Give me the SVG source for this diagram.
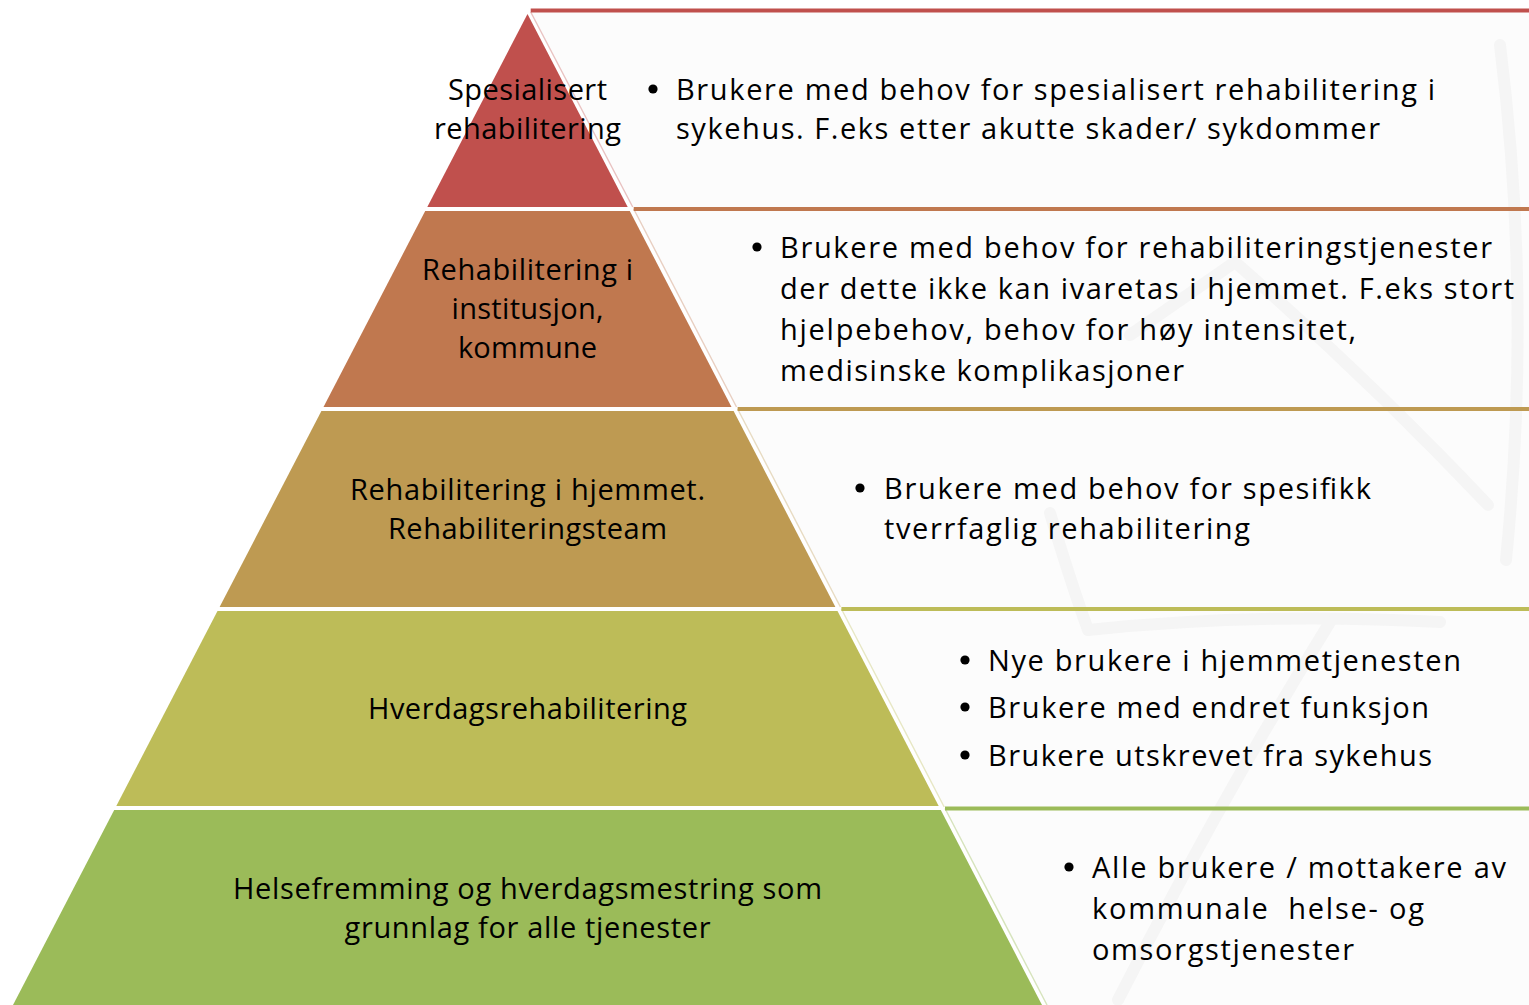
<svg xmlns="http://www.w3.org/2000/svg" width="1529" height="1005" viewBox="0 0 1529 1005">
<style>
  .lbl { font-family: "Open Sans", "Liberation Sans", sans-serif; font-size: 29px; fill: #000000; }
  .mid { text-anchor: middle; }
  .band { fill: #fcfcfc; }
  .wm { fill: none; stroke: #f5f5f5; stroke-width: 12; stroke-linecap: round; stroke-linejoin: round; }
  .bul { fill: #000000; }
</style>
<rect x="0" y="0" width="1529" height="1005" fill="#ffffff"/>

<!-- right bands -->
<g id="bands">
  <polygon class="band" points="530.7,10.5 1529,10.5 1529,207 632.7,207"/>
  <polygon class="band" points="633.7,209 1529,209 1529,407 736.5,407"/>
  <polygon class="band" points="737.6,409 1529,409 1529,607 840.4,607"/>
  <polygon class="band" points="841.4,609 1529,609 1529,807 944.2,807"/>
  <polygon class="band" points="945,808.5 1529,808.5 1529,1005 1047,1005"/>
</g>

<!-- faint watermark -->
<g id="watermark">
  <path class="wm" d="M1500,45 Q1532,300 1506,560"/>
  <path class="wm" d="M1130,335 L1235,262 Q1370,380 1488,505"/>
  <path class="wm" d="M1050,513 Q1070,580 1088,630 Q1260,612 1440,622"/>
  <path class="wm" d="M1330,622 Q1220,800 1118,1000"/>
</g>

<!-- band edges and top lines -->
<g id="connectors">
  <line x1="530.7" y1="10.5" x2="1529" y2="10.5" stroke="#c0504d" stroke-width="4"/>
  <line x1="530.7" y1="12" x2="632.7" y2="207" stroke="#c0504d" stroke-opacity="0.35" stroke-width="1.4"/>
  <line x1="633.7" y1="209" x2="1529" y2="209" stroke="#c0784f" stroke-width="4"/>
  <line x1="633.7" y1="209" x2="736.5" y2="407" stroke="#c0784f" stroke-opacity="0.35" stroke-width="1.4"/>
  <line x1="737.6" y1="409" x2="1529" y2="409" stroke="#be9a52" stroke-width="4"/>
  <line x1="737.6" y1="409" x2="840.4" y2="607" stroke="#be9a52" stroke-opacity="0.35" stroke-width="1.4"/>
  <line x1="841.4" y1="609" x2="1529" y2="609" stroke="#bdbc58" stroke-width="4"/>
  <line x1="841.4" y1="609" x2="944.2" y2="807" stroke="#bdbc58" stroke-opacity="0.35" stroke-width="1.4"/>
  <line x1="945" y1="808.5" x2="1529" y2="808.5" stroke="#9bbb59" stroke-width="4"/>
  <line x1="945" y1="808.5" x2="1047" y2="1005" stroke="#9bbb59" stroke-opacity="0.4" stroke-width="1.4"/>
</g>

<!-- pyramid layers -->
<g id="layer1">
  <polygon points="527.5,14 627.7,207 427.3,207" fill="#c0504d"/>
  <text class="lbl mid" x="527.5" y="100" textLength="159" lengthAdjust="spacing">Spesialisert</text>
  <text class="lbl mid" x="527.5" y="139" textLength="187" lengthAdjust="spacing">rehabilitering</text>
</g>
<g id="layer2">
  <polygon points="425.2,211 629.8,211 731.5,407 323.5,407" fill="#c0784f"/>
  <text class="lbl mid" x="527.5" y="280" textLength="211" lengthAdjust="spacing">Rehabilitering i</text>
  <text class="lbl mid" x="527.5" y="319" textLength="152" lengthAdjust="spacing">institusjon,</text>
  <text class="lbl mid" x="527.5" y="358" textLength="139" lengthAdjust="spacing">kommune</text>
</g>
<g id="layer3">
  <polygon points="321.4,411 733.6,411 835.4,607 219.6,607" fill="#be9a52"/>
  <text class="lbl mid" x="527.5" y="500" textLength="355" lengthAdjust="spacing">Rehabilitering i hjemmet.</text>
  <text class="lbl mid" x="527.5" y="539" textLength="279" lengthAdjust="spacing">Rehabiliteringsteam</text>
</g>
<g id="layer4">
  <polygon points="217.5,611 837.5,611 938.7,806 116.3,806" fill="#bdbc58"/>
  <text class="lbl mid" x="527.5" y="719" textLength="319" lengthAdjust="spacing">Hverdagsrehabilitering</text>
</g>
<g id="layer5">
  <polygon points="114.2,810 940.8,810 1042,1005 13,1005" fill="#9bbb59"/>
  <text class="lbl mid" x="527.5" y="899" textLength="589" lengthAdjust="spacing">Helsefremming og hverdagsmestring som</text>
  <text class="lbl mid" x="527.5" y="938" textLength="366" lengthAdjust="spacing">grunnlag for alle tjenester</text>
</g>

<!-- band texts -->
<g id="text1">
  <circle class="bul" cx="653" cy="89" r="4.6"/>
  <text class="lbl" x="676" y="100" textLength="759" lengthAdjust="spacing">Brukere med behov for spesialisert rehabilitering i</text>
  <text class="lbl" x="676" y="139" textLength="704" lengthAdjust="spacing">sykehus. F.eks etter akutte skader/ sykdommer</text>
</g>
<g id="text2">
  <circle class="bul" cx="757" cy="247" r="4.6"/>
  <text class="lbl" x="780" y="258" textLength="712" lengthAdjust="spacing">Brukere med behov for rehabiliteringstjenester</text>
  <text class="lbl" x="780" y="299" textLength="734" lengthAdjust="spacing">der dette ikke kan ivaretas i hjemmet. F.eks stort</text>
  <text class="lbl" x="780" y="340" textLength="576" lengthAdjust="spacing">hjelpebehov, behov for høy intensitet,</text>
  <text class="lbl" x="780" y="381" textLength="404" lengthAdjust="spacing">medisinske komplikasjoner</text>
</g>
<g id="text3">
  <circle class="bul" cx="860" cy="488" r="4.6"/>
  <text class="lbl" x="884" y="499" textLength="487" lengthAdjust="spacing">Brukere med behov for spesifikk</text>
  <text class="lbl" x="884" y="539" textLength="366" lengthAdjust="spacing">tverrfaglig rehabilitering</text>
</g>
<g id="text4">
  <circle class="bul" cx="965" cy="660" r="4.6"/>
  <circle class="bul" cx="965" cy="707" r="4.6"/>
  <circle class="bul" cx="965" cy="755" r="4.6"/>
  <text class="lbl" x="988" y="671" textLength="473" lengthAdjust="spacing">Nye brukere i hjemmetjenesten</text>
  <text class="lbl" x="988" y="718" textLength="441" lengthAdjust="spacing">Brukere med endret funksjon</text>
  <text class="lbl" x="988" y="766" textLength="444" lengthAdjust="spacing">Brukere utskrevet fra sykehus</text>
</g>
<g id="text5">
  <circle class="bul" cx="1069" cy="867" r="4.6"/>
  <text class="lbl" x="1092" y="878" textLength="414" lengthAdjust="spacing">Alle brukere / mottakere av</text>
  <text class="lbl" x="1092" y="919" textLength="332" lengthAdjust="spacing" xml:space="preserve">kommunale  helse- og</text>
  <text class="lbl" x="1092" y="960" textLength="262" lengthAdjust="spacing">omsorgstjenester</text>
</g>
</svg>
